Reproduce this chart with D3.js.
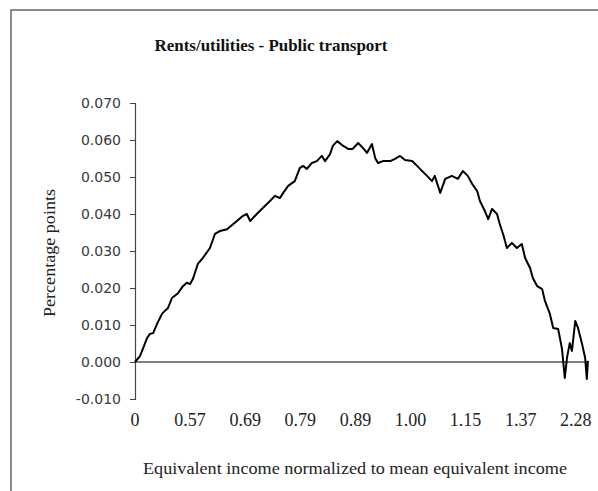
<!DOCTYPE html>
<html>
<head>
<meta charset="utf-8">
<script src="https://cdn.jsdelivr.net/npm/d3@7"></script>
<style>
  html, body { margin: 0; padding: 0; background: #fff; }
  svg { display: block; }
</style>
</head>
<body>
<svg id="chart" width="598" height="491"></svg>
<script>
// x positions are in tick steps along the axis (0 = first label, 8 = last label)
const xTickLabels = ["0", "0.57", "0.69", "0.79", "0.89", "1.00", "1.15", "1.37", "2.28"];
const yTicks = [-0.01, 0, 0.01, 0.02, 0.03, 0.04, 0.05, 0.06, 0.07];

const curveX = [
  0.00, 0.09, 0.15, 0.22, 0.27, 0.33, 0.40, 0.49, 0.54, 0.60, 0.67, 0.78, 0.87, 0.94,
  1.00, 1.05, 1.14, 1.23, 1.36, 1.45, 1.54, 1.67, 1.85, 1.96, 2.03, 2.09, 2.21, 2.32,
  2.45, 2.54, 2.63, 2.69, 2.78, 2.90, 2.99, 3.05, 3.12, 3.21, 3.30, 3.39, 3.45, 3.54,
  3.59, 3.67, 3.78, 3.87, 3.95, 4.05, 4.14, 4.21, 4.30, 4.36, 4.41, 4.50, 4.63, 4.72,
  4.81, 4.90, 5.03, 5.12, 5.21, 5.30, 5.39, 5.44, 5.54, 5.63, 5.75, 5.86, 5.95, 6.04,
  6.12, 6.21, 6.26, 6.35, 6.41, 6.48, 6.57, 6.62, 6.68, 6.75, 6.84, 6.93, 7.02, 7.08,
  7.17, 7.22, 7.30, 7.39, 7.44, 7.53, 7.59, 7.68, 7.75, 7.80, 7.84, 7.89, 7.93, 7.99,
  8.04, 8.11, 8.17, 8.20, 8.22
];
const curveY = [
  0.0000, 0.0016, 0.0038, 0.0065, 0.0076, 0.0078, 0.0103, 0.0130, 0.0138, 0.0146, 0.0173, 0.0186, 0.0205, 0.0214,
  0.0211, 0.0224, 0.0265, 0.0281, 0.0308, 0.0346, 0.0354, 0.0359, 0.0381, 0.0395, 0.0400, 0.0381, 0.0400, 0.0416,
  0.0435, 0.0449, 0.0443, 0.0457, 0.0476, 0.0489, 0.0524, 0.0530, 0.0522, 0.0538, 0.0543, 0.0557, 0.0543, 0.0562,
  0.0584, 0.0597, 0.0584, 0.0576, 0.0576, 0.0592, 0.0578, 0.0565, 0.0589, 0.0551, 0.0538, 0.0543, 0.0543, 0.0549,
  0.0557, 0.0546, 0.0543, 0.0530, 0.0516, 0.0503, 0.0489, 0.0503, 0.0457, 0.0495, 0.0503, 0.0495, 0.0516, 0.0503,
  0.0481, 0.0462, 0.0435, 0.0408, 0.0386, 0.0414, 0.0400, 0.0373, 0.0346, 0.0308, 0.0322, 0.0308, 0.0319, 0.0281,
  0.0254, 0.0227, 0.0205, 0.0197, 0.0165, 0.0130, 0.0092, 0.0089, 0.0035, -0.0043, 0.0011, 0.0051, 0.0030, 0.0111,
  0.0092, 0.0051, 0.0011, -0.0046, 0.0003
];

const serif = "Liberation Serif, Times New Roman, serif";
const svg = d3.select("#chart");

// outer frame of the original figure
svg.append("rect")
  .attr("x", 11).attr("y", 10)
  .attr("width", 620).attr("height", 520)
  .attr("fill", "none")
  .attr("stroke", "#666")
  .attr("stroke-width", 1.5);

const margin = { top: 103, left: 135 };
const plotW = 55.1 * 8;
const plotH = 296;

const xScale = d3.scaleLinear().domain([0, 8]).range([0, plotW]);
const yScale = d3.scaleLinear().domain([-0.01, 0.07]).range([plotH, 0]);

const g = svg.append("g").attr("transform", `translate(${margin.left},${margin.top})`);

svg.append("text")
  .attr("x", 271).attr("y", 51)
  .attr("text-anchor", "middle")
  .attr("font-family", serif)
  .attr("font-weight", "bold")
  .attr("font-size", 16.5)
  .attr("textLength", 233)
  .attr("lengthAdjust", "spacingAndGlyphs")
  .attr("fill", "#111")
  .text("Rents/utilities - Public transport");

// y axis
const yAxis = g.append("g")
  .call(d3.axisLeft(yScale).tickValues(yTicks).tickSize(5).tickPadding(9)
    .tickFormat(d3.format(".3f")));
yAxis.select(".domain").attr("stroke", "#444").attr("stroke-width", 1.2);
yAxis.selectAll(".tick line").attr("stroke", "#444");
yAxis.selectAll("text")
  .attr("font-family", "DejaVu Sans, Verdana, sans-serif")
  .attr("font-size", 14)
  .attr("fill", "#3a3a3a")
  .text((d) => (d < 0 ? "-" : "") + d3.format(".3f")(Math.abs(d)));

// zero line
g.append("line")
  .attr("x1", 0).attr("x2", xScale(8.2))
  .attr("y1", yScale(0)).attr("y2", yScale(0))
  .attr("stroke", "#555").attr("stroke-width", 1.3);

// x labels (no tick marks)
g.append("g")
  .selectAll("text")
  .data(xTickLabels)
  .join("text")
  .attr("x", (d, i) => xScale(i))
  .attr("y", 323)
  .attr("text-anchor", "middle")
  .attr("font-family", serif)
  .attr("font-size", 18)
  .attr("fill", "#222")
  .text((d) => d);

svg.append("text")
  .attr("x", 355).attr("y", 474)
  .attr("text-anchor", "middle")
  .attr("font-family", serif)
  .attr("font-size", 17)
  .attr("textLength", 424)
  .attr("lengthAdjust", "spacingAndGlyphs")
  .attr("fill", "#222")
  .text("Equivalent income normalized to mean equivalent income");

svg.append("text")
  .attr("transform", "translate(55,253) rotate(-90)")
  .attr("text-anchor", "middle")
  .attr("font-family", serif)
  .attr("font-size", 16.5)
  .attr("textLength", 128)
  .attr("lengthAdjust", "spacingAndGlyphs")
  .attr("fill", "#222")
  .text("Percentage points");

const points = curveX.map((x, i) => ({ x, y: curveY[i] }));
const line = d3.line().x((d) => xScale(d.x)).y((d) => yScale(d.y));

g.append("path")
  .datum(points)
  .attr("d", line)
  .attr("fill", "none")
  .attr("stroke", "#000")
  .attr("stroke-width", 2)
  .attr("stroke-linejoin", "round");
</script>
</body>
</html>
